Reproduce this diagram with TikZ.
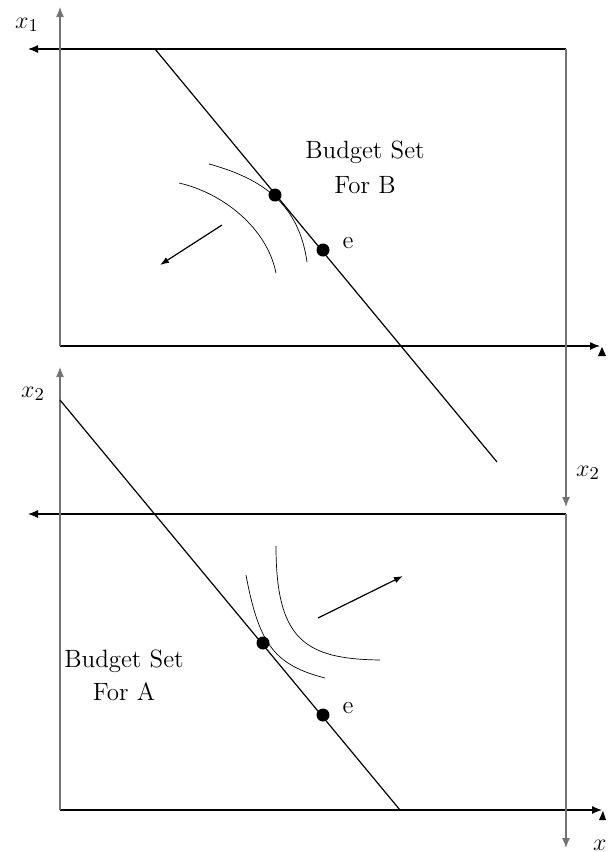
\documentclass[tikz,border=0pt]{standalone}
\usetikzlibrary{arrows.meta}
\begin{document}
\begin{tikzpicture}[x=0.5pt,y=-0.5pt,
  axisv/.style={draw=black!55, line width=0.65pt},
  axish/.style={draw=black, line width=0.6pt},
  axtip/.style={-{Latex[length=5pt,width=4pt]}},
  budget/.style={draw=black, line width=0.6pt},
  indiff/.style={draw=black, line width=0.35pt},
  dirarrow/.style={draw=black, line width=0.6pt, -{Latex[length=4.5pt,width=3.2pt]}},
  bdot/.style={circle, fill=black, inner sep=0pt, minimum size=6.5pt},
  lbl/.style={font=\fontsize{12.5}{15}\selectfont, inner sep=0pt, anchor=base},
  tri/.style={fill=black}]
\useasboundingbox (0,0) rectangle (608,852);

% ---------- top diagram (B) ----------
\coordinate (TLaxB) at (60,346);
\coordinate (TLaxT) at (60,7);
\coordinate (TtopR) at (566,49);
\coordinate (TtopL) at (28,49);
\coordinate (TrightB) at (566,507);
\coordinate (TbotL) at (60,346);
\coordinate (TbotR) at (600,346);
\coordinate (TbudA) at (155,49);
\coordinate (TbudB) at (497,462);

\draw[axish,axtip] (TtopR) -- (TtopL);
\draw[axish,axtip] (TbotL) -- (TbotR);
\draw[axisv,axtip] (TLaxB) -- (TLaxT);
\draw[axisv,axtip] (TtopR) -- (TrightB);
\fill[tri] (598,356) -- (606,356) -- (602,347) -- cycle;

\draw[budget] (TbudA) -- (TbudB);

\draw[indiff] (209,164) .. controls (264,179) and (299,205) .. (307,262);
\draw[indiff] (179,183) .. controls (223,193) and (267,228) .. (276,273);

\coordinate (TarS) at (222,225);
\coordinate (TarE) at (160,265);
\draw[dirarrow] (TarS) -- (TarE);

\node[bdot] (dB) at (275,195) {};
\node[bdot] (eB) at (323,250) {};

\node[lbl] (lx1t) at (27,28) {$x_1$};
\node[lbl] (lx2t) at (588,476) {$x_2$};
\node[lbl] (bsB1) at (365,158) {Budget Set};
\node[lbl] (bsB2) at (365,193) {For B};
\node[lbl] (eBl) at (348,248) {e};

% ---------- bottom diagram (A) ----------
\coordinate (BLaxB) at (60,810);
\coordinate (BLaxT) at (60,367);
\coordinate (BtopR) at (566,514);
\coordinate (BtopL) at (28,514);
\coordinate (BrightB) at (566,848);
\coordinate (BbotL) at (60,810);
\coordinate (BbotR) at (602,810);
\coordinate (BbudA) at (60,400);
\coordinate (BbudB) at (400,810);

\draw[axish,axtip] (BtopR) -- (BtopL);
\draw[axish,axtip] (BbotL) -- (BbotR);
\draw[axisv,axtip] (BLaxB) -- (BLaxT);
\draw[axisv,axtip] (BtopR) -- (BrightB);
\fill[tri] (599,820) -- (606,820) -- (603,811) -- cycle;

\draw[budget] (BbudA) -- (BbudB);

\draw[indiff] (246,575) .. controls (259,645) and (275,665) .. (325,678);
\draw[indiff] (276,546) .. controls (276,640) and (305,659) .. (380,660);

\coordinate (BarS) at (318,618);
\coordinate (BarE) at (403,576);
\draw[dirarrow] (BarS) -- (BarE);

\node[bdot] (dA) at (263,643) {};
\node[bdot] (eA) at (323,715) {};

\node[lbl] (lx2b) at (33,397) {$x_2$};
\node[lbl] (lx1b) at (605,850) {$x_1$};
\node[lbl] (bsA1) at (124,667) {Budget Set};
\node[lbl] (bsA2) at (124,700) {For A};
\node[lbl] (eAl) at (348,713) {e};
\end{tikzpicture}
\end{document}
